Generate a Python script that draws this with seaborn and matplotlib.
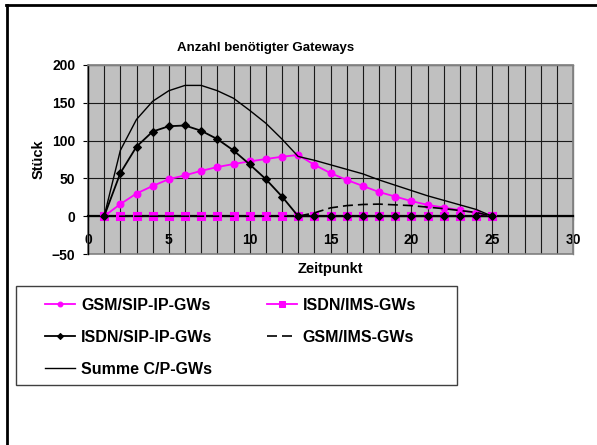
import numpy as np
import pandas as pd
import matplotlib
matplotlib.use("Agg")
import matplotlib.pyplot as plt
from matplotlib.patches import Rectangle
from matplotlib.lines import Line2D
from matplotlib.ticker import MultipleLocator
import seaborn as sns

# Werte
zeitpunkt = list(range(1, 26))
gsm_sip = [0, 16, 30, 40, 49, 54, 60, 65, 69, 72.5, 75.6, 78.7, 81,
           68, 57, 48, 40, 32, 26, 20, 15, 11.5, 8, 4.4, 0]
isdn_ims = [0, 0, 0, 0, 0, 0, 0, 0, 0, 0, 0, 0, 0,
            0, 0, 0, 0, 0, 0, 0, 0, 0, 0, 0, 0]
isdn_sip = [0, 57, 92, 112, 119, 120, 113, 102, 87, 68.5, 49, 26, 0,
            0, 0, 0, 0, 0, 0, 0, 0, 0, 0, 0, 0]
gsm_ims = [0, 0, 0, 0, 0, 0, 0, 0, 0, 0, 0, 0, 0,
           4.4, 11, 14, 15.5, 16, 15, 14, 12, 10, 7.5, 5, 0]
summe = [0, 87, 128, 152, 166, 173, 173, 166, 156, 140, 123, 102, 79,
         74, 68, 62, 56, 48, 41, 34, 27, 21, 15, 9, 0]

names = ["GSM/SIP-IP-GWs", "ISDN/IMS-GWs", "ISDN/SIP-IP-GWs", "GSM/IMS-GWs", "Summe C/P-GWs"]
x_ticks = [0, 5, 10, 15, 20, 25, 30]
y_ticks = [-50, 0, 50, 100, 150, 200]

df = pd.DataFrame({"Zeitpunkt": zeitpunkt, names[0]: gsm_sip, names[1]: isdn_ims,
                   names[2]: isdn_sip, names[3]: gsm_ims, names[4]: summe})

plt.rcParams["font.family"] = ["Liberation Sans", "DejaVu Sans"]
plt.rcParams["font.weight"] = "bold"

W, H = 597, 445


def fx(px):
    return px / W


def fy(py):
    return 1 - py / H


fig = plt.figure(figsize=(W / 100, H / 100), dpi=100)
fig.patch.set_facecolor("white")
ax = fig.add_axes([fx(88), fy(254), (573 - 88) / W, (254 - 65) / H])
ax.set_facecolor("#C0C0C0")

MAG = "#FF00FF"
styles = [
    dict(color=MAG, marker="o", markersize=5, markeredgecolor=MAG, linewidth=1.3, zorder=3),
    dict(color=MAG, marker="s", markersize=5.2, markeredgecolor=MAG, linewidth=1.3, zorder=2),
    dict(color="black", marker="D", markersize=4.4, markeredgecolor="black", linewidth=1.3, zorder=3.2),
    dict(color="black", linestyle=(0, (6, 3)), linewidth=1.2, zorder=3.3),
    dict(color="black", linewidth=1.0, zorder=3.4),
]
for name, st in zip(names, styles):
    sns.lineplot(data=df, x="Zeitpunkt", y=name, ax=ax, label=name,
                 clip_on=False, **st)

# Quadrate der ISDN/IMS-Reihe liegen über der Achsenlinie
sns.lineplot(data=df, x="Zeitpunkt", y=names[1], ax=ax, color=MAG, linestyle="none",
             marker="s", markersize=5.2, markeredgecolor=MAG, zorder=3.1,
             clip_on=False, legend=False)

if ax.get_legend() is not None:
    ax.get_legend().remove()

ax.set_xlim(0, 30)
ax.set_ylim(-50, 200)
ax.set_xticks(x_ticks)
ax.xaxis.set_minor_locator(MultipleLocator(1))
ax.set_yticks(y_ticks)
ax.grid(True, which="both", axis="x", color="#1a1a1a", linewidth=0.8)
ax.grid(True, which="major", axis="y", color="#1a1a1a", linewidth=0.8)
ax.set_axisbelow(True)

ax.spines["bottom"].set_position(("data", 0))
ax.spines["bottom"].set_color("black")
ax.spines["left"].set_color("black")
ax.spines["top"].set_color("#808080")
ax.spines["right"].set_color("#808080")
for s in ax.spines.values():
    s.set_linewidth(1.0)
ax.spines["bottom"].set_linewidth(1.6)
ax.add_patch(Rectangle((0, 0), 1, 1, transform=ax.transAxes, fill=False,
                       edgecolor="#808080", linewidth=1.2, clip_on=False, zorder=1))

ax.tick_params(axis="x", which="major", direction="out", length=3, pad=9,
               labelsize=10, color="black")
ax.tick_params(axis="x", which="minor", length=0)
ax.tick_params(axis="y", direction="out", length=3.6, pad=5.5, labelsize=10, color="black")
for lab in ax.get_xticklabels() + ax.get_yticklabels():
    lab.set_fontweight("bold")

ax.set_xlabel("Zeitpunkt", fontsize=10.5, fontweight="bold")
ax.xaxis.set_label_coords(0.5, (254 - 262) / 189)
ax.set_ylabel("Stück", fontsize=10.5, fontweight="bold")
ax.yaxis.set_label_coords((46 - 88) / 485, 0.5)

fig.text(fx(266), fy(48), "Anzahl benötigter Gateways", ha="center", va="center",
         fontsize=9.5, fontweight="bold")

# Legende: spaltenweise Reihenfolge, damit zeilenweise wie im Original
handles, labels = ax.get_legend_handles_labels()
idx = {lab: h for h, lab in zip(handles, labels)}
order = [names[0], names[2], names[4], names[1], names[3]]
leg = fig.legend([idx[n] for n in order], order,
                 loc="upper left", bbox_to_anchor=(fx(45), fy(298)),
                 bbox_transform=fig.transFigure, ncol=2, frameon=False,
                 borderpad=0, borderaxespad=0, handlelength=1.9, handletextpad=0.35,
                 columnspacing=3.4, labelspacing=1.05, markerscale=0.7,
                 prop={"size": 11.5, "weight": "bold"})
fig.add_artist(Rectangle((fx(16), fy(385)), (457 - 16) / W, (385 - 286) / H,
                         transform=fig.transFigure, fill=False,
                         edgecolor="#404040", linewidth=1.0))

# Rahmen links und oben
fig.add_artist(Line2D([fx(7), fx(7)], [fy(5), 0], transform=fig.transFigure,
                      color="black", linewidth=2.0))
fig.add_artist(Line2D([fx(6), 1], [fy(5), fy(5)], transform=fig.transFigure,
                      color="black", linewidth=2.0))

fig.savefig("out.png", dpi=100)
